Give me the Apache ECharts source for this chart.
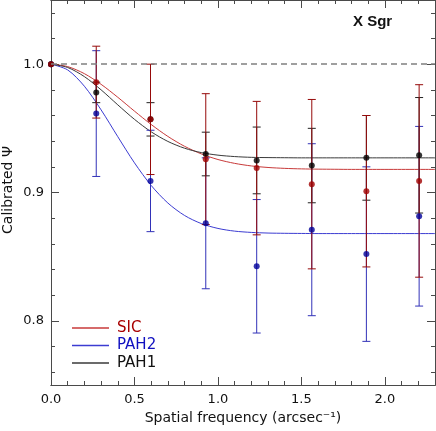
<!DOCTYPE html>
<html>
<head>
<meta charset="utf-8">
<script src="https://cdn.jsdelivr.net/npm/echarts@6/dist/echarts.min.js"></script>
<style>
  html, body { margin: 0; padding: 0; background: #fff; }
  #chart { width: 436px; height: 431px; }
</style>
</head>
<body>
<div id="chart"></div>
<script>
// measured points (spatial frequency, calibrated visibility, error)
var freq = [0, 0.271, 0.596, 0.927, 1.232, 1.562, 1.889, 2.205];
var sicVal  = [1.0, 0.986, 0.957, 0.926, 0.919, 0.9065, 0.901, 0.909];
var sicErr  = [0, 0.028, 0.043, 0.051, 0.052, 0.066, 0.059, 0.075];
var pah2Val = [1.0, 0.9615, 0.909, 0.876, 0.8425, 0.871, 0.852, 0.8815];
var pah2Err = [0, 0.049, 0.0395, 0.051, 0.052, 0.067, 0.068, 0.070];
var pah1Val = [1.0, 0.978, 0.957, 0.930, 0.925, 0.921, 0.927, 0.929];
var pah1Err = [0, 0.008, 0.013, 0.017, 0.026, 0.029, 0.033, 0.045];

// fitted curves, every 0.1 arcsec^-1
var fitFreq = [0, 0.1, 0.2, 0.3, 0.4, 0.5, 0.6, 0.7, 0.8, 0.9, 1.0, 1.1, 1.2,
               1.3, 1.4, 1.5, 1.6, 1.7, 1.8, 1.9, 2.0, 2.1, 2.2, 2.3];
var sicFit  = [1.0, 0.9981, 0.9926, 0.9843, 0.9742, 0.9634, 0.9530, 0.9437, 0.9360, 0.9301, 0.9257, 0.9227,
               0.9207, 0.9195, 0.9188, 0.9184, 0.9182, 0.9181, 0.918, 0.918, 0.918, 0.918, 0.918, 0.918];
var pah2Fit = [1.0, 0.9955, 0.9828, 0.9644, 0.9435, 0.9231, 0.9055, 0.8918, 0.8821, 0.8758, 0.8720, 0.8699,
               0.8689, 0.8684, 0.8682, 0.8681, 0.868, 0.868, 0.868, 0.868, 0.868, 0.868, 0.868, 0.868];
var pah1Fit = [1.0, 0.9974, 0.9903, 0.9800, 0.9683, 0.9570, 0.9473, 0.9398, 0.9345, 0.9311, 0.9291, 0.9280,
               0.9274, 0.9272, 0.9271, 0.927, 0.927, 0.927, 0.927, 0.927, 0.927, 0.927, 0.927, 0.927];

// tick values
var xMajor = [0, 0.5, 1.0, 1.5, 2.0];
var xMinor = [0.1, 0.2, 0.3, 0.4, 0.6, 0.7, 0.8, 0.9, 1.1, 1.2, 1.3, 1.4,
              1.6, 1.7, 1.8, 1.9, 2.1, 2.2];
var yMajor = [0.8, 0.9, 1.0];
var yMinor = [0.76, 0.78, 0.82, 0.84, 0.86, 0.88, 0.92, 0.94, 0.96, 0.98, 1.02, 1.04];

var FONT = 'DejaVu Sans';
var frame = '#4a4a4a';

function pairs(xs, ys) {
	var out = [];
	for (var i = 0; i < xs.length; i++) out.push([xs[i], ys[i]]);
	return out;
}
function triples(xs, ys, es) {
	var out = [];
	for (var i = 0; i < xs.length; i++) out.push([xs[i], ys[i], es[i]]);
	return out;
}

function errorBars(name, color, vals, errs) {
	return {
		name: name,
		type: 'custom',
		z: 3,
		data: triples(freq, vals, errs),
		renderItem: function (params, api) {
			var x = api.value(0), y = api.value(1), e = api.value(2);
			if (!e) return null;
			var hi = api.coord([x, y + e]);
			var lo = api.coord([x, y - e]);
			var w = 4;
			var st = { stroke: color, lineWidth: 1 };
			return {
				type: 'group',
				children: [
					{ type: 'line', shape: { x1: hi[0], y1: hi[1], x2: lo[0], y2: lo[1] }, style: st },
					{ type: 'line', shape: { x1: hi[0] - w, y1: hi[1], x2: hi[0] + w, y2: hi[1] }, style: st },
					{ type: 'line', shape: { x1: lo[0] - w, y1: lo[1], x2: lo[0] + w, y2: lo[1] }, style: st }
				]
			};
		}
	};
}

function points(name, color, vals) {
	return {
		name: name,
		type: 'scatter',
		z: 4,
		symbolSize: 6,
		itemStyle: { color: color },
		data: pairs(freq, vals)
	};
}

function curve(name, color, vals) {
	return {
		name: name,
		type: 'line',
		z: 2,
		smooth: 0.3,
		showSymbol: false,
		symbol: 'none',
		color: color,
		lineStyle: { color: color, width: 1 },
		data: pairs(fitFreq, vals)
	};
}

function xAx(pos, ticks, len, labels) {
	return {
		type: 'value', position: pos, min: 0, max: 2.3,
		axisLine: { show: true, onZero: false, lineStyle: { color: frame, width: 1 } },
		axisTick: { show: true, inside: true, length: len, customValues: ticks, lineStyle: { color: frame } },
		axisLabel: labels ? {
			show: true, customValues: ticks, margin: 8,
			fontFamily: FONT, fontSize: 13, color: '#111',
			formatter: function (v) { return v.toFixed(1); }
		} : { show: false },
		splitLine: { show: false }
	};
}
function yAx(pos, ticks, len, labels) {
	return {
		type: 'value', position: pos, min: 0.75, max: 1.05,
		axisLine: { show: true, onZero: false, lineStyle: { color: frame, width: 1 } },
		axisTick: { show: true, inside: true, length: len, customValues: ticks, lineStyle: { color: frame } },
		axisLabel: labels ? {
			show: true, customValues: ticks, margin: 7,
			fontFamily: FONT, fontSize: 13, color: '#111',
			formatter: function (v) { return v.toFixed(1); }
		} : { show: false },
		splitLine: { show: false }
	};
}

var xAxes = [xAx('bottom', xMajor, 8, true), xAx('bottom', xMinor, 4, false),
             xAx('top', xMajor, 8, false), xAx('top', xMinor, 4, false)];
xAxes[0].name = 'Spatial frequency (arcsec⁻¹)';
xAxes[0].nameLocation = 'middle';
xAxes[0].nameGap = 24;
xAxes[0].nameTextStyle = { fontFamily: FONT, fontSize: 14, color: '#111', verticalAlign: 'top' };

var yAxes = [yAx('left', yMajor, 8, true), yAx('left', yMinor, 4, false),
             yAx('right', yMajor, 8, false), yAx('right', yMinor, 4, false)];

var sicCurve = curve('SIC', '#c83a3a', sicFit);
sicCurve.markLine = {
	silent: true,
	symbol: 'none',
	label: { show: false },
	lineStyle: { color: '#808080', type: [6, 4], width: 1.5 },
	data: [{ yAxis: 1.0 }]
};

var dom = document.getElementById('chart');
var myChart = echarts.init(dom, null, { renderer: 'canvas' });
var option = {
	animation: false,
	backgroundColor: '#fff',
	title: {
		text: 'X Sgr',
		left: 353, top: 14, padding: 0,
		textStyle: { fontFamily: 'Liberation Sans', fontWeight: 'bold', fontSize: 15, color: '#111' }
	},
	// y axis title, rotated
	graphic: [{
		type: 'text',
		x: 8, y: 190,
		rotation: Math.PI / 2,
		style: {
			text: 'Calibrated Ψ',
			font: '14px "DejaVu Sans"',
			fill: '#111',
			align: 'center',
			verticalAlign: 'middle'
		}
	}],
	grid: { left: 51, right: 1, top: 0, bottom: 46, containLabel: false, outerBoundsMode: 'none' },
	legend: {
		orient: 'vertical',
		left: 72, top: 320, padding: 0,
		itemGap: 1.5,
		itemWidth: 37, itemHeight: 1.5,
		icon: 'rect',
		selectedMode: false,
		textStyle: { fontFamily: FONT, fontSize: 15, lineHeight: 16, padding: [0, 0, 0, 3] },
		data: [
			{ name: 'SIC', textStyle: { color: '#a80000' } },
			{ name: 'PAH2', textStyle: { color: '#1010c0' } },
			{ name: 'PAH1', textStyle: { color: '#111' } }
		]
	},
	xAxis: xAxes,
	yAxis: yAxes,
	series: [
		sicCurve,
		curve('PAH2', '#3c3cd2', pah2Fit),
		curve('PAH1', '#3a3a3a', pah1Fit),
		errorBars('PAH2 err', '#3232b8', pah2Val, pah2Err),
		errorBars('PAH1 err', '#222', pah1Val, pah1Err),
		errorBars('SIC err', '#960a0a', sicVal, sicErr),
		points('PAH2 pts', '#00009a', pah2Val),
		points('PAH1 pts', '#000', pah1Val),
		points('SIC pts', '#a00000', sicVal)
	]
};
if (option && typeof option === "object") {
	myChart.setOption(option, true);
}
</script>
</body>
</html>
